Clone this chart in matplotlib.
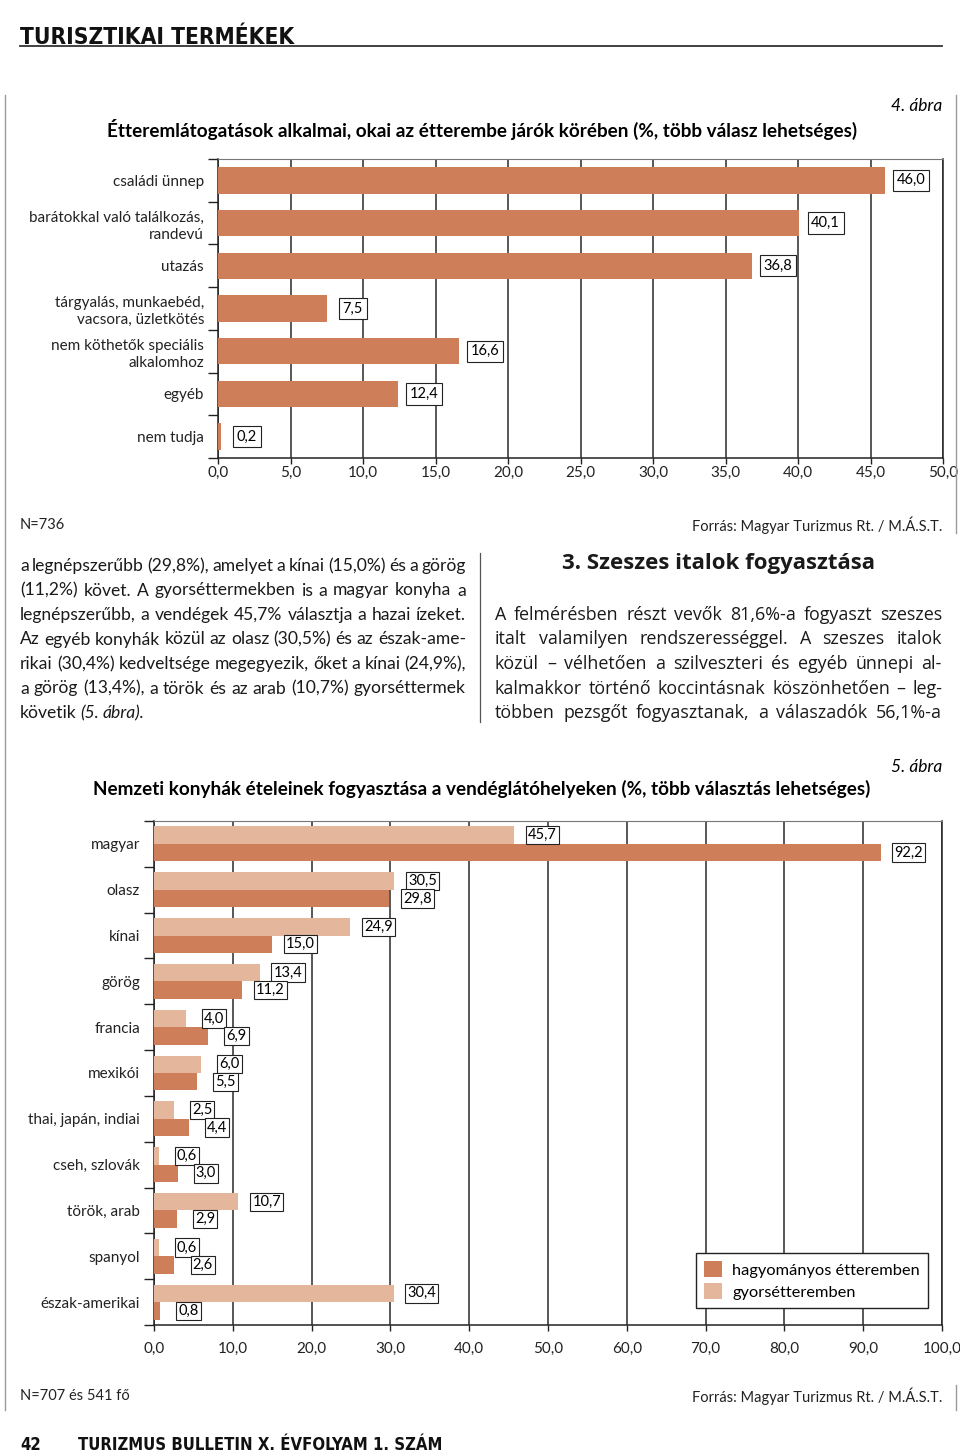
import numpy as np
import matplotlib
matplotlib.use('Agg')
from matplotlib import pyplot as plt
from matplotlib import font_manager
from matplotlib.lines import Line2D

# --- data -----------------------------------------------------------------
alkalmak = ['családi ünnep', 'barátokkal való találkozás,\nrandevú', 'utazás',
            'tárgyalás, munkaebéd,\nvacsora, üzletkötés',
            'nem köthetők speciális\nalkalomhoz', 'egyéb', 'nem tudja']
alkalmak_pct = [46.0, 40.1, 36.8, 7.5, 16.6, 12.4, 0.2]

konyhak = ['magyar', 'olasz', 'kínai', 'görög', 'francia', 'mexikói',
           'thai, japán, indiai', 'cseh, szlovák', 'török, arab', 'spanyol',
           'észak-amerikai']
gyors = [45.7, 30.5, 24.9, 13.4, 4.0, 6.0, 2.5, 0.6, 10.7, 0.6, 30.4]
hagyomanyos = [92.2, 29.8, 15.0, 11.2, 6.9, 5.5, 4.4, 3.0, 2.9, 2.6, 0.8]

bal_hasab = ['a legnépszerűbb (29,8%), amelyet a kínai (15,0%) és a görög',
             '(11,2%) követ. A gyorséttermekben is a magyar konyha a',
             'legnépszerűbb, a vendégek 45,7% választja a hazai ízeket.',
             'Az egyéb konyhák közül az olasz (30,5%) és az észak-ame-',
             'rikai (30,4%) kedveltsége megegyezik, őket a kínai (24,9%),',
             'a görög (13,4%), a török és az arab (10,7%) gyorséttermek',
             'követik _(5. _ábra).']
jobb_hasab = ['A felmérésben részt vevők 81,6%-a fogyaszt szeszes',
              'italt valamilyen rendszerességgel. A szeszes italok',
              'közül – vélhetően a szilveszteri és egyéb ünnepi al-',
              'kalmakkor történő koccintásnak köszönhetően – leg-',
              'többen pezsgőt fogyasztanak, a válaszadók 56,1%-a']

SOTET = '#CE7E58'
VILAGOS = '#E4B69C'
SANS = 'Lato'
WIDE = 'Open Sans'

# a condensed face for the page header/footer, if one is installed
cond = [f for f in font_manager.fontManager.ttflist
        if 'condensed' in str(f.stretch) or 'Narrow' in f.name or 'Condensed' in f.name]
if cond:
    NARROW = dict(family=cond[0].name, fontstretch=cond[0].stretch)
else:
    NARROW = dict(family='Roboto')

W, H = 960, 1456
fig = plt.figure(figsize=(W / 100, H / 100), dpi=100)
renderer = fig.canvas.get_renderer()


def fx(x):
    return x / W


def fy(y):
    return 1 - y / H


def fmt(v):
    return f'{v:.1f}'.replace('.', ',')


def hline(x0, x1, y, **kw):
    fig.add_artist(Line2D([fx(x0), fx(x1)], [fy(y), fy(y)], **kw))


def vline(x, y0, y1, **kw):
    fig.add_artist(Line2D([fx(x), fx(x)], [fy(y0), fy(y1)], **kw))


def fit_text(x, y, s, width, **kw):
    t = fig.text(fx(x), fy(y), s, fontsize=20, **kw)
    w = t.get_window_extent(renderer).width
    t.set_fontsize(20 * width / w)
    return t


# page frame
hline(20, 942, 46, color='#333333', lw=1.3)
vline(5, 95, 1410, color='#9a9a9a', lw=1)
vline(956, 95, 533, color='#9a9a9a', lw=1)
vline(956, 1385, 1410, color='#9a9a9a', lw=1)
vline(480, 553, 722, color='#555555', lw=0.9)

fit_text(20, 44, 'TURISZTIKAI TERMÉKEK', 273, weight='bold', va='baseline',
         color='#111111', **NARROW)
foot = fit_text(78, 1450, 'TURIZMUS BULLETIN X. ÉVFOLYAM 1. SZÁM', 364,
                weight='bold', va='baseline', color='#111111', **NARROW)
fig.text(fx(20), fy(1450), '42', fontsize=foot.get_fontsize(), weight='bold',
         va='baseline', color='#111111', **NARROW)

# --- chart 1 --------------------------------------------------------------
fig.text(fx(942), fy(106), '4. ábra', family=SANS, style='italic', fontsize=12.5,
         ha='right', va='center')
fig.text(fx(482), fy(129), 'Étteremlátogatások alkalmai, okai az étterembe járók '
         'körében (%, több válasz lehetséges)', family=SANS, weight='bold',
         fontsize=13.6, ha='center', va='center')

ax1 = fig.add_axes([fx(218), fy(458), (943 - 218) / W, (458 - 159) / H])
y1 = np.arange(len(alkalmak))
ax1.barh(y1, alkalmak_pct, height=0.62, color=SOTET, zorder=3)
for i, v in enumerate(alkalmak_pct):
    ax1.text(v + 1.8, i, fmt(v), ha='center', va='center', family=SANS,
             fontsize=10.5, zorder=4,
             bbox=dict(boxstyle='square,pad=0.25', fc='white', ec='#222222', lw=0.8))
ax1.set_xlim(0, 50)
ax1.set_ylim(len(alkalmak) - 0.5, -0.5)
ax1.set_xticks(np.arange(0, 51, 5))
ax1.set_xticklabels([fmt(t) for t in np.arange(0, 51, 5)])
ax1.set_yticks(y1)
ax1.set_yticklabels(alkalmak, linespacing=1.3)
ax1.set_yticks(np.arange(-0.5, len(alkalmak), 1), minor=True)

# --- chart 2 --------------------------------------------------------------
fig.text(fx(942), fy(767), '5. ábra', family=SANS, style='italic', fontsize=12.5,
         ha='right', va='center')
fig.text(fx(482), fy(789), 'Nemzeti konyhák ételeinek fogyasztása a vendéglátóhelyeken '
         '(%, több választás lehetséges)', family=SANS, weight='bold',
         fontsize=13.6, ha='center', va='center')

ax2 = fig.add_axes([fx(154), fy(1325), (942 - 154) / W, (1325 - 821) / H])
y2 = np.arange(len(konyhak))
ax2.barh(y2 - 0.19, gyors, height=0.38, color=VILAGOS, zorder=3,
         label='gyorsétteremben')
ax2.barh(y2 + 0.19, hagyomanyos, height=0.38, color=SOTET, zorder=3,
         label='hagyományos étteremben')
for i in range(len(konyhak)):
    for v, yy in ((gyors[i], i - 0.19), (hagyomanyos[i], i + 0.19)):
        ax2.text(v + 3.6, yy, fmt(v), ha='center', va='center', family=SANS,
                 fontsize=10.5, zorder=4,
                 bbox=dict(boxstyle='square,pad=0.15', fc='white', ec='#222222', lw=0.8))
ax2.set_xlim(0, 100)
ax2.set_ylim(len(konyhak) - 0.5, -0.5)
ax2.set_xticks(np.arange(0, 101, 10))
ax2.set_xticklabels([fmt(t) for t in np.arange(0, 101, 10)])
ax2.set_yticks(y2)
ax2.set_yticklabels(konyhak)
ax2.set_yticks(np.arange(-0.5, len(konyhak), 1), minor=True)

h, l = ax2.get_legend_handles_labels()
leg = ax2.legend(h[::-1], l[::-1], loc='lower left',
                 bbox_to_anchor=(fx(696), fy(1308)), bbox_transform=fig.transFigure,
                 borderaxespad=0, frameon=True, fancybox=False, framealpha=1,
                 handlelength=1.1, handleheight=1.1, handletextpad=0.6,
                 labelspacing=0.35, borderpad=0.5,
                 prop={'family': SANS, 'size': 11.8})
leg.get_frame().set_edgecolor('#222222')
leg.get_frame().set_linewidth(1)

for ax, xpad in ((ax1, 2), (ax2, 8)):
    ax.xaxis.grid(True, color='#2a2a2a', lw=1.1, zorder=1)
    ax.set_axisbelow(True)
    ax.tick_params(axis='y', which='major', length=0, pad=10)
    ax.tick_params(axis='y', which='minor', length=7, width=1, color='#222222')
    ax.tick_params(axis='x', length=4, width=1, pad=xpad, color='#222222')
    for lab in ax.get_xticklabels() + ax.get_yticklabels():
        lab.set_family(SANS)
        lab.set_fontsize(11)
        lab.set_color('#222222')
    for s in ('left', 'bottom', 'right'):
        ax.spines[s].set_color('#222222')
        ax.spines[s].set_linewidth(1.1)
    ax.spines['top'].set_color('#777777')

# notes
for yy, left in ((525, 'N=736'), (1396, 'N=707 és 541 fő')):
    fig.text(fx(20), fy(yy), left, family=SANS, fontsize=10.5, va='center',
             color='#222222')
    fig.text(fx(942), fy(yy), 'Forrás: Magyar Turizmus Rt. / M.Á.S.T.', family=SANS,
             fontsize=10.5, ha='right', va='center', color='#222222')


# --- body text ------------------------------------------------------------
def justify(lines, x0, x1, y0, dy, family, size, last_free=True):
    for k, line in enumerate(lines):
        words = line.split(' ')
        y = fy(y0 + k * dy)
        texts = []
        for w in words:
            st = 'normal'
            if w.startswith('_'):
                st = 'italic'
                w = w[1:]
            texts.append(fig.text(0, y, w, family=family, fontsize=size, style=st,
                                  va='center', color='#1a1a1a'))
        free = last_free and k == len(lines) - 1
        sz = size
        while True:
            widths = [t.get_window_extent(renderer).width for t in texts]
            gap = sz * 0.3 if free else (x1 - x0 - sum(widths)) / (len(words) - 1)
            if gap >= sz * 0.25:
                break
            sz -= 0.2
            for t in texts:
                t.set_fontsize(sz)
        x = x0
        for t, w in zip(texts, widths):
            t.set_x(fx(x))
            x += w + gap


justify(bal_hasab, 20, 466, 566, 24.5, SANS, 12.6)
justify(jobb_hasab, 495, 942, 615, 24.5, WIDE, 12.9, last_free=False)
fig.text(fx(718), fy(564), '3. Szeszes italok fogyasztása', family=WIDE,
         weight='bold', fontsize=16, ha='center', va='center', color='#1a1a1a')

fig.savefig('out.png', dpi=100)
